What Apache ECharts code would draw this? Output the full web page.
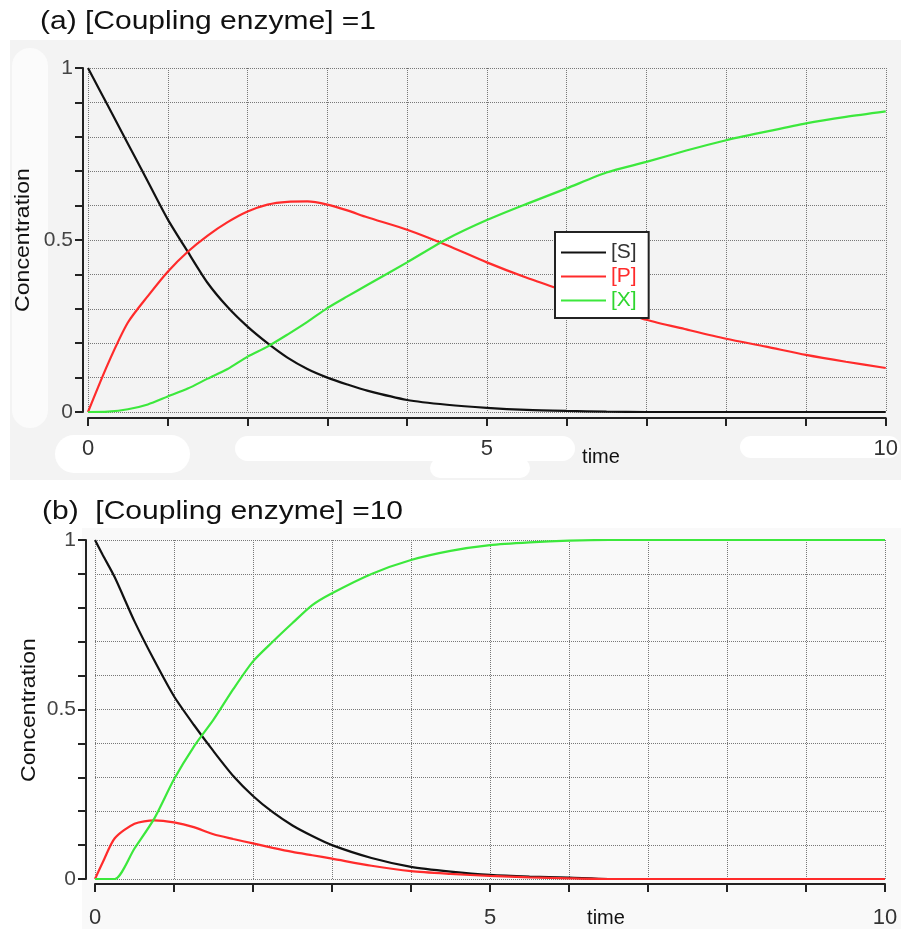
<!DOCTYPE html>
<html>
<head>
<meta charset="utf-8">
<script src="https://cdn.jsdelivr.net/npm/echarts@6/dist/echarts.min.js"></script>
<style>
  html, body { margin: 0; padding: 0; background: #fff; }
  #chart { width: 901px; height: 929px; }
</style>
</head>
<body>
<div id="chart"></div>
<script>
// (a) [Coupling enzyme] = 1
const timeA = [0, 0.25, 0.5, 0.75, 1, 1.25, 1.5, 1.75, 2, 2.25, 2.5, 2.75, 3, 3.25, 3.5, 4, 4.5, 5, 5.5, 6, 6.5, 7, 7.5, 8, 8.5, 9, 9.5, 10]
const sA = [1, 0.89, 0.78, 0.67, 0.56, 0.466, 0.375, 0.305, 0.248, 0.2, 0.158, 0.125, 0.1, 0.08, 0.062, 0.035, 0.021, 0.012, 0.006, 0.003, 0.001, 0, 0, 0, 0, 0, 0, 0]
const pA = [0, 0.14, 0.26, 0.337, 0.408, 0.466, 0.513, 0.552, 0.583, 0.603, 0.611, 0.612, 0.603, 0.586, 0.566, 0.53, 0.485, 0.435, 0.39, 0.35, 0.31, 0.268, 0.24, 0.213, 0.19, 0.166, 0.146, 0.128]
const xA = [0, 0.001, 0.008, 0.022, 0.045, 0.068, 0.097, 0.125, 0.161, 0.19, 0.225, 0.262, 0.302, 0.336, 0.369, 0.435, 0.503, 0.558, 0.605, 0.65, 0.696, 0.727, 0.76, 0.79, 0.815, 0.839, 0.858, 0.874]

// (b) [Coupling enzyme] = 10
const timeB = [0, 0.1, 0.25, 0.5, 0.75, 1, 1.25, 1.5, 1.75, 2, 2.25, 2.5, 2.75, 3, 3.5, 4, 4.5, 5, 5.5, 6, 6.5, 7, 8, 9, 10]
const sB = [1, 0.955, 0.89, 0.76, 0.645, 0.539, 0.455, 0.377, 0.304, 0.245, 0.197, 0.158, 0.127, 0.1, 0.062, 0.036, 0.022, 0.012, 0.007, 0.004, 0, 0, 0, 0, 0]
const pB = [0, 0.05, 0.12, 0.163, 0.173, 0.167, 0.153, 0.132, 0.118, 0.105, 0.092, 0.08, 0.07, 0.06, 0.039, 0.023, 0.015, 0.009, 0.005, 0.002, 0, 0, 0, 0, 0]
const xB = [0, 0, 0, 0.09, 0.178, 0.294, 0.39, 0.47, 0.56, 0.642, 0.7, 0.755, 0.808, 0.843, 0.9, 0.941, 0.968, 0.985, 0.993, 0.998, 1, 1, 1, 1, 1]

const yTickLabels = ['0', '0.5', '1']
const xTickLabels = ['0', '5', '10']
const seriesNames = ['[S]', '[P]', '[X]']
const colors = ['#111111', '#ff2b2b', '#3ce83c']

const FONT = "'Liberation Sans', Arial, sans-serif"

const pairs = (t, v) => t.map((x, i) => [x, v[i]])

const axisCommon = {
  type: 'value',
  axisLine: { show: true, onZero: false, lineStyle: { color: '#222', width: 2 } },
  axisTick: { show: true, length: 8, lineStyle: { color: '#222', width: 2 } },
  splitLine: { show: true, lineStyle: { type: 'dotted', color: '#777', width: 1 } }
}

const makeX = (gridIndex, offset, margin) => ({
  ...axisCommon,
  gridIndex,
  min: 0, max: 10, interval: 1,
  offset,
  axisLabel: {
    margin, fontSize: 22, color: '#333', fontFamily: FONT,
    formatter: v => xTickLabels.includes(String(v)) ? String(v) : ''
  }
})

const makeY = (gridIndex, offset) => ({
  ...axisCommon,
  gridIndex,
  min: 0, max: 1, interval: 0.1,
  offset,
  axisLabel: {
    margin: 10, fontSize: 21, color: '#444', fontFamily: FONT,
    formatter: v => yTickLabels.includes(String(v)) ? String(v) : ''
  }
})

const makeSeries = (idx, t, lists) => lists.map((vals, i) => ({
  name: seriesNames[i],
  type: 'line',
  xAxisIndex: idx,
  yAxisIndex: idx,
  data: pairs(t, vals),
  showSymbol: false,
  smooth: 0.25,
  color: colors[i],
  lineStyle: { width: 2.2, color: colors[i] }
}))

const label = (text, x, y, size, opts = {}) => ({
  type: 'text', x, y, z: 100,
  scaleX: opts.scaleX || 1,
  rotation: opts.rotation || 0,
  style: {
    text, fill: '#111', font: size + 'px ' + FONT,
    textAlign: opts.align || 'left', textVerticalAlign: 'middle', verticalAlign: 'middle'
  }
})

const blob = (x, y, w, h, fill) => ({
  type: 'rect', z: -10, silent: true,
  shape: { x, y, width: w, height: h, r: Math.min(w, h) / 2 },
  style: { fill }
})

const chart = echarts.init(document.getElementById('chart'))
chart.setOption({
  animation: false,
  backgroundColor: '#fff',
  grid: [
    { left: 88, top: 68, width: 801, height: 344 },
    { left: 95, top: 540, width: 790, height: 340 }
  ],
  xAxis: [makeX(0, 6, 20), makeX(1, 5, 23)],
  yAxis: [makeY(0, 5), makeY(1, 9)],
  legend: {
    left: 555, top: 232,
    orient: 'vertical',
    selectedMode: false,
    icon: 'rect',
    itemWidth: 45, itemHeight: 2, itemGap: 3,
    padding: [10, 12, 7, 6],
    backgroundColor: '#fff',
    borderColor: '#222', borderWidth: 2,
    textStyle: { fontSize: 21, fontFamily: FONT },
    data: [
      { name: '[S]', textStyle: { color: '#333' } },
      { name: '[P]', textStyle: { color: '#ff2b2b' } },
      { name: '[X]', textStyle: { color: '#2fd62f' } }
    ]
  },
  graphic: [
    // panel backgrounds
    { type: 'rect', z: -20, silent: true, shape: { x: 10, y: 40, width: 891, height: 440 }, style: { fill: '#f3f3f3' } },
    { type: 'rect', z: -20, silent: true, shape: { x: 82, y: 528, width: 819, height: 401 }, style: { fill: '#f9f9f9' } },
    blob(12, 48, 36, 380, '#fbfbfb'),
    blob(55, 435, 135, 38, '#fff'),
    blob(235, 436, 340, 25, '#fff'),
    blob(430, 458, 100, 20, '#fff'),
    blob(740, 436, 160, 22, '#fff'),
    // titles and axis names
    label('(a) [Coupling enzyme] =1', 40, 22, 25, { scaleX: 1.2 }),
    label('(b)  [Coupling enzyme] =10', 42, 512, 25, { scaleX: 1.2 }),
    label('Concentration', 23, 240, 21, { rotation: Math.PI / 2, align: 'center', scaleX: 1.1 }),
    label('Concentration', 29, 710, 21, { rotation: Math.PI / 2, align: 'center', scaleX: 1.1 }),
    label('time', 601, 457, 20, { align: 'center' }),
    label('time', 606, 918, 20, { align: 'center' })
  ],
  series: [
    ...makeSeries(0, timeA, [sA, pA, xA]),
    ...makeSeries(1, timeB, [sB, pB, xB])
  ]
})
</script>
</body>
</html>
